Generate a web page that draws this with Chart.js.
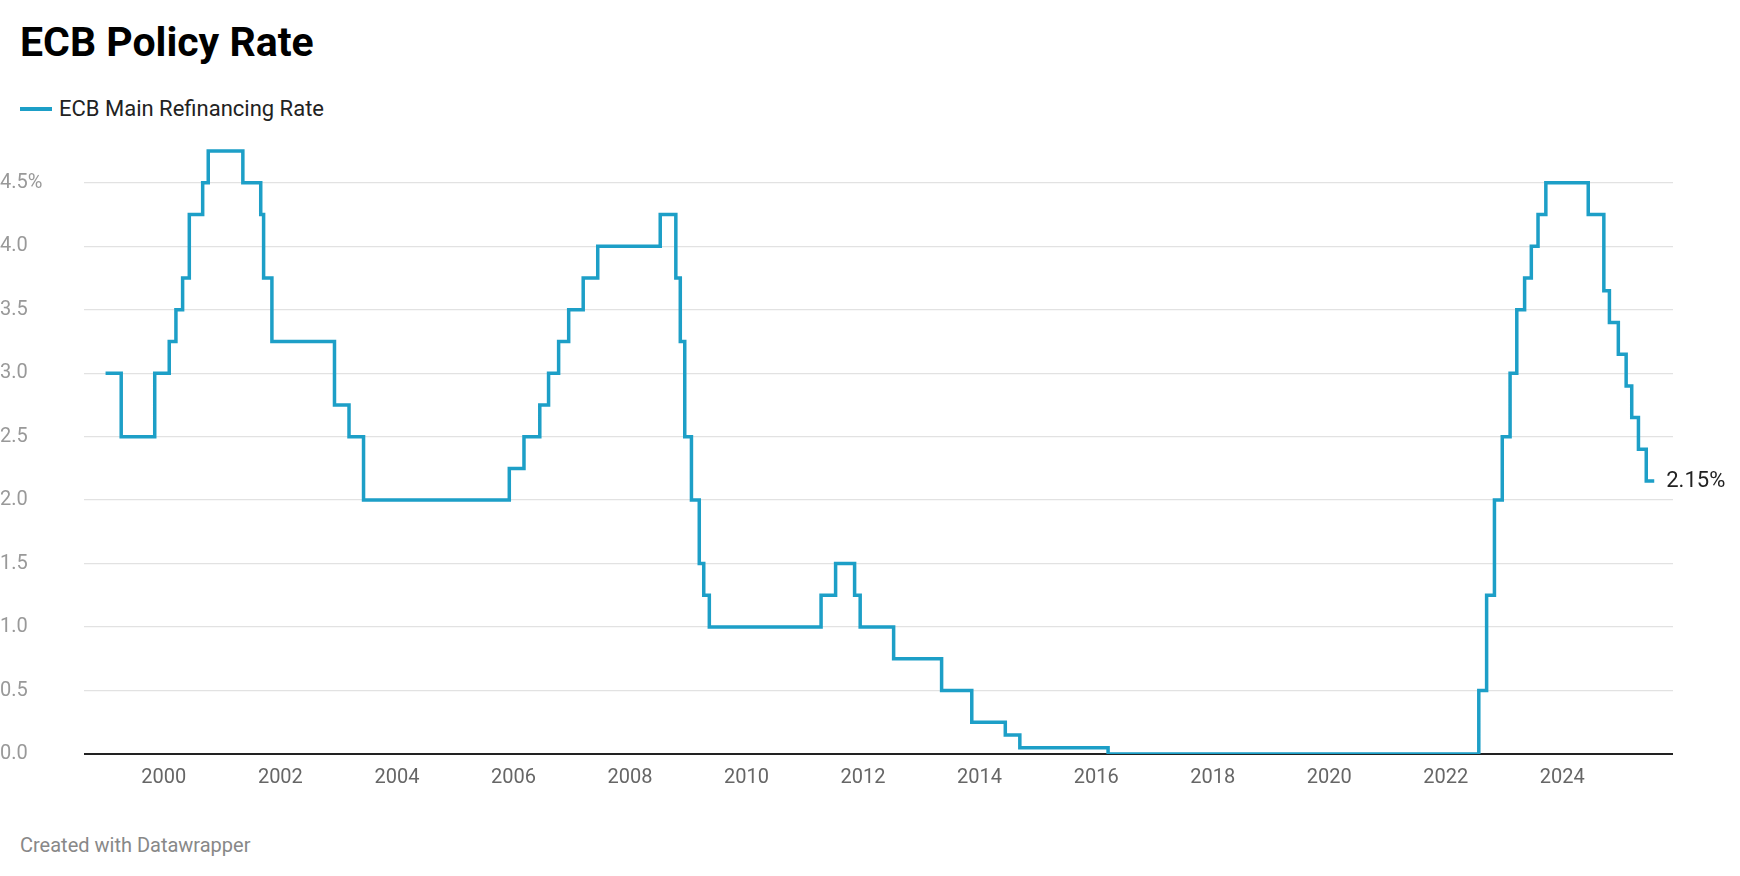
<!DOCTYPE html>
<html><head><meta charset="utf-8">
<script src="https://cdn.jsdelivr.net/npm/chart.js@4/dist/chart.umd.min.js"></script>
<style>
body{margin:0;background:#fff;font-family:Roboto,sans-serif;width:1740px;height:876px;position:relative;overflow:hidden}
#title{position:absolute;left:20px;top:18px;font-size:41px;font-weight:700;color:#000}
#legend{position:absolute;left:20px;top:96px;font-size:22px;color:#222;display:flex;align-items:center}
#legend span.sw{display:inline-block;width:32px;height:4px;background:#1d9fc7;margin-right:7px}
#foot{position:absolute;left:20px;top:833px;font-size:20px;color:#888}
#wrap{position:absolute;left:0;top:120px;width:1740px;height:680px}
</style></head><body>
<div id="title">ECB Policy Rate</div>
<div id="legend"><span class="sw"></span>ECB Main Refinancing Rate</div>
<div id="wrap"><canvas id="c"></canvas></div>
<div id="foot">Created with Datawrapper</div>
<script>
const dates = ["1999-01-01","1999-04-09","1999-11-05","2000-02-04","2000-03-17","2000-04-28","2000-06-09","2000-09-01","2000-10-06","2001-05-11","2001-08-31","2001-09-18","2001-11-09","2002-12-06","2003-03-07","2003-06-06","2005-12-06","2006-03-08","2006-06-15","2006-08-09","2006-10-11","2006-12-13","2007-03-14","2007-06-13","2008-07-09","2008-10-15","2008-11-12","2008-12-10","2009-01-21","2009-03-11","2009-04-08","2009-05-13","2011-04-13","2011-07-13","2011-11-09","2011-12-14","2012-07-11","2013-05-08","2013-11-13","2014-06-11","2014-09-10","2016-03-16","2022-07-27","2022-09-14","2022-11-02","2022-12-21","2023-02-08","2023-03-22","2023-05-10","2023-06-21","2023-08-02","2023-09-20","2024-06-12","2024-09-18","2024-10-23","2024-12-18","2025-02-05","2025-03-12","2025-04-23","2025-06-11","2025-07-31"];
const rates = [3.00,2.50,3.00,3.25,3.50,3.75,4.25,4.50,4.75,4.50,4.25,3.75,3.25,2.75,2.50,2.00,2.25,2.50,2.75,3.00,3.25,3.50,3.75,4.00,4.25,3.75,3.25,2.50,2.00,1.50,1.25,1.00,1.25,1.50,1.25,1.00,0.75,0.50,0.25,0.15,0.05,0.00,0.50,1.25,2.00,2.50,3.00,3.50,3.75,4.00,4.25,4.50,4.25,3.65,3.40,3.15,2.90,2.65,2.40,2.15,2.15];
const xTicks = [2000,2002,2004,2006,2008,2010,2012,2014,2016,2018,2020,2022,2024];
const yTicks = [0,0.5,1,1.5,2,2.5,3,3.5,4,4.5];
const endLabel = "2.15%";
function toYear(s){const d=new Date(s+"T00:00:00Z");const y=d.getUTCFullYear();const s0=Date.UTC(y,0,1),s1=Date.UTC(y+1,0,1);return y+(d-s0)/(s1-s0);}
const pts = dates.map((d,i)=>({x:toYear(d),y:rates[i]}));
const labelPlugin={id:'endlbl',afterDatasetsDraw(ch){const m=ch.getDatasetMeta(0).data;const p=m[m.length-1];const c=ch.ctx;c.save();c.font='22px Roboto';c.fillStyle='#222';c.textBaseline='middle';c.fillText(endLabel,p.x+12,p.y);c.restore();}};
new Chart(document.getElementById('c'),{
 type:'line',
 data:{datasets:[{data:pts,borderColor:'#1d9fc7',borderWidth:3.5,pointRadius:0,stepped:true,fill:false,tension:0}]},
 options:{responsive:true,maintainAspectRatio:false,animation:false,
  layout:{padding:{top:11,right:67,left:0,bottom:0}},
  plugins:{legend:{display:false},tooltip:{enabled:false}},
  scales:{
   x:{type:'linear',min:1998.63,max:2025.9,
      afterBuildTicks(a){a.ticks=xTicks.map(v=>({value:v}));},
      afterFit(a){a.height=46;},
      grid:{display:false,drawTicks:false},border:{display:false},
      ticks:{color:'#666',font:{size:20,family:'Roboto'},padding:12,maxRotation:0,callback:v=>String(v)}},
   y:{min:0,max:4.9,
      afterBuildTicks(a){a.ticks=yTicks.map(v=>({value:v}));},
      afterFit(a){a.width=84;},
      grid:{color:c=>c.tick&&c.tick.value===0?'#222':'#e2e2e2',lineWidth:c=>c.tick&&c.tick.value===0?2:1.3,drawTicks:false},
      border:{display:false},
      ticks:{color:'#999',font:{size:20,family:'Roboto'},crossAlign:'far',padding:0,mirror:false,
        callback:v=>v===4.5?'4.5%':v.toFixed(1)}}
  }},
 plugins:[labelPlugin]
});
</script></body></html>
